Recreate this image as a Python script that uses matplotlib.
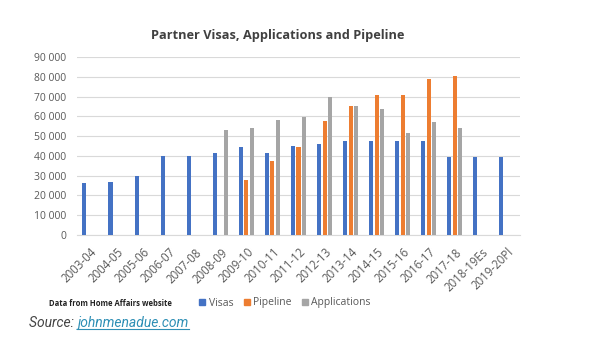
import matplotlib
matplotlib.use("Agg")
import matplotlib.pyplot as plt
import matplotlib.transforms as mtransforms
import numpy as np
from matplotlib.patches import Patch
from matplotlib.lines import Line2D

categories = ["2003-04", "2004-05", "2005-06", "2006-07", "2007-08", "2008-09",
              "2009-10", "2010-11", "2011-12", "2012-13", "2013-14", "2014-15",
              "2015-16", "2016-17", "2017-18", "2018-19Es", "2019-20Pl"]
visas = [26500, 26800, 30000, 40000, 39700, 41700, 44700, 41700, 44800, 45900,
         47300, 47500, 47500, 47500, 39500, 39500, 39500]
pipeline = [None, None, None, None, None, None, 27700, 37300, 44600, 57600,
            65200, 70900, 70600, 78700, 80200, None, None]
applications = [None, None, None, None, None, 53000, 53900, 58100, 59800, 69900,
                65200, 63900, 51700, 56900, 53900, None, None]
yticks = [0, 10000, 20000, 30000, 40000, 50000, 60000, 70000, 80000, 90000]

C_VIS = "#4472C4"
C_PIP = "#ED7D31"
C_APP = "#A5A5A5"

plt.rcParams['font.family'] = ['Open Sans', 'DejaVu Sans']

fig = plt.figure(figsize=(5.9, 3.51), dpi=100)
W, H = 590, 351
ax = fig.add_axes([77 / W, 1 - 235 / H, (520 - 77) / W, (235 - 57) / H])

x = np.arange(len(categories))
bw = 0.155
off = 0.215

def vals(v):
    return [np.nan if a is None else a for a in v]

ax.bar(x - off, vals(visas), bw, color=C_VIS, zorder=3)
ax.bar(x, vals(pipeline), bw, color=C_PIP, zorder=3)
ax.bar(x + off, vals(applications), bw, color=C_APP, zorder=3)

ax.set_xlim(-0.5, len(categories) - 0.5)
ax.set_ylim(0, 90000)
ax.set_yticks(yticks)
ax.set_yticklabels([f"{v:,}".replace(",", " ") for v in yticks])
ax.yaxis.grid(True, color="#D9D9D9", linewidth=0.8, zorder=0)
ax.set_axisbelow(True)
for s in ["top", "right", "left"]:
    ax.spines[s].set_visible(False)
ax.spines["bottom"].set_color("#D9D9D9")
ax.tick_params(axis="both", length=0, colors="#595959", labelsize=7.5)
ax.tick_params(axis="y", pad=8)
ax.set_xticks(x)
ax.set_xticklabels(categories, rotation=45, ha="right", va="center",
                   rotation_mode="anchor", fontsize=8.3)
ax.tick_params(axis="x", pad=11)
shift = mtransforms.ScaledTranslation(5 / 100, 0, fig.dpi_scale_trans)
for lab in ax.get_xticklabels():
    lab.set_transform(lab.get_transform() + shift)

fig.text(278 / W, 1 - 36 / H, "Partner Visas, Applications and Pipeline",
         ha="center", va="center", fontsize=9.2, fontweight="bold", color="#404040")

fig.text(49 / W, 1 - 303 / H, "Data from Home Affairs website", ha="left",
         va="center", fontsize=5.5, fontweight="bold", color="#222222")

handles = [Patch(color=C_VIS, label="Visas"), Patch(color=C_PIP, label="Pipeline"),
           Patch(color=C_APP, label="Applications")]
fig.legend(handles=handles, loc="center left", bbox_to_anchor=(190 / W, 1 - 303 / H),
           ncol=3, frameon=False, fontsize=7.5, handlelength=0.55, handleheight=0.55,
           handletextpad=0.35, columnspacing=1.0, labelcolor="#595959")

t1 = fig.text(29 / W, 1 - 323 / H, "Source: ", ha="left", va="center",
              fontsize=10, style="italic", color="#444444", family="Roboto")
fig.canvas.draw()
r = fig.canvas.get_renderer()
bb = t1.get_window_extent(r)
x2 = bb.x1 / W
t2 = fig.text(x2, 1 - 323 / H, "johnmenadue.com", ha="left", va="center",
              fontsize=10, style="italic", color="#2E8FB5", family="Roboto")
fig.canvas.draw()
bb2 = t2.get_window_extent(r)
yline = bb2.y0 / H + 0.002
fig.add_artist(Line2D([bb2.x0 / W, bb2.x1 / W], [yline, yline], color="#2E8FB5",
                      linewidth=0.8, transform=fig.transFigure))

fig.savefig("out.png", dpi=100, facecolor="white")
